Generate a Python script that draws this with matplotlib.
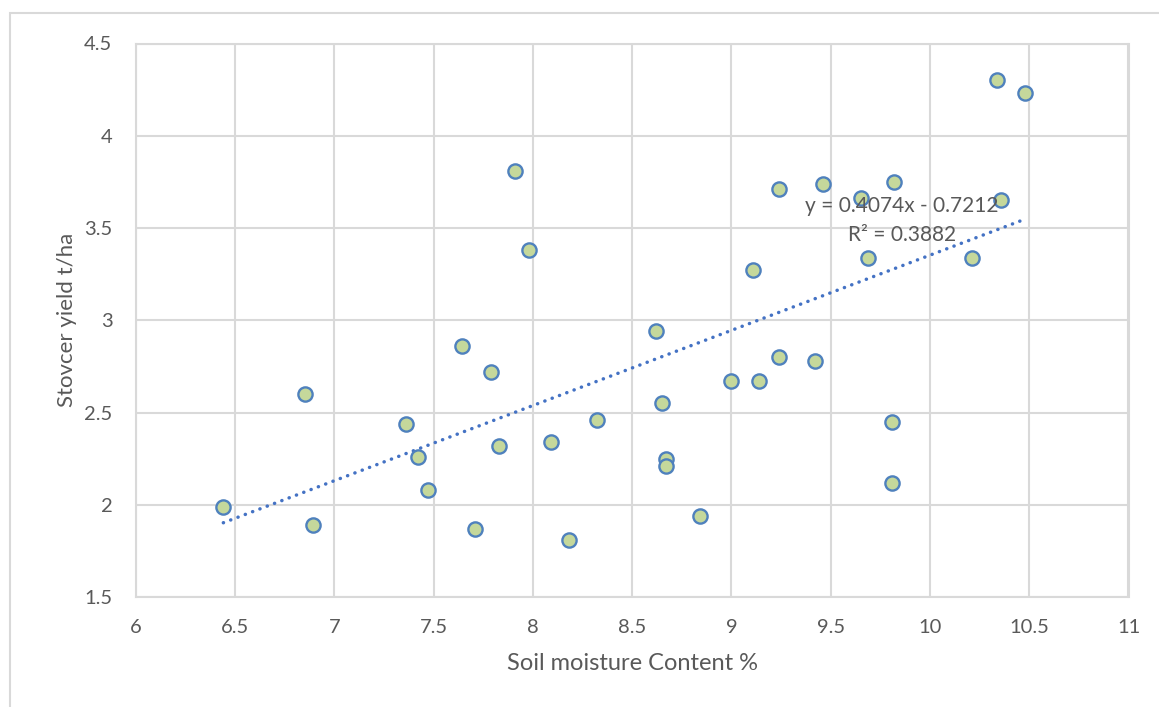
import matplotlib.pyplot as plt
from matplotlib.patches import Rectangle
import numpy as np

# kadar air tanah (%) dan hasil brangkasan (t/ha)
soil_moisture = [6.44, 6.85, 6.89, 7.36, 7.42, 7.47, 7.64, 7.71, 7.79, 7.83,
                 7.91, 7.98, 8.09, 8.18, 8.32, 8.62, 8.65, 8.67, 8.67, 8.84,
                 9.00, 9.11, 9.14, 9.24, 9.24, 9.42, 9.46, 9.65, 9.69, 9.81,
                 9.82, 9.81, 10.21, 10.34, 10.36, 10.48]
stover_yield = [1.99, 2.60, 1.89, 2.44, 2.26, 2.08, 2.86, 1.87, 2.72, 2.32,
                3.81, 3.38, 2.34, 1.81, 2.46, 2.94, 2.55, 2.25, 2.21, 1.94,
                2.67, 3.27, 2.67, 2.80, 3.71, 2.78, 3.74, 3.66, 3.34, 2.45,
                3.75, 2.12, 3.34, 4.30, 3.65, 4.23]

# garis tren linear (dari label Excel)
slope = 0.4074
intercept = -0.7212
r_squared = 0.3882

x_ticks = [6, 6.5, 7, 7.5, 8, 8.5, 9, 9.5, 10, 10.5, 11]
y_ticks = [1.5, 2, 2.5, 3, 3.5, 4, 4.5]

text_col = '#595959'
grid_col = '#d9d9d9'

plt.rcParams['font.family'] = ['Lato', 'DejaVu Sans']

fig = plt.figure(figsize=(11.59, 7.07), dpi=100)
# bingkai area grafik
fig.patches.append(Rectangle((10 / 1159, -0.1), 1.2, 1 - 13 / 707 + 0.1,
                             transform=fig.transFigure, fill=False,
                             edgecolor=grid_col, linewidth=1.5))

ax = fig.add_axes([136 / 1159, 1 - 597 / 707, (1128.5 - 136) / 1159, (597 - 43.5) / 707])

ax.scatter(soil_moisture, stover_yield, s=105, facecolor='#c5d89b',
           edgecolor='#4f81bd', linewidth=1.7, zorder=3)

xs = np.array([min(soil_moisture), max(soil_moisture)])
ax.plot(xs, slope * xs + intercept, color='#4472c4', linewidth=2.5,
        linestyle=(0, (0.05, 2.2)), dash_capstyle='round', zorder=2)

ax.text(9.86, 3.62, f'y = {slope}x - {abs(intercept)}', ha='center', va='center',
        fontsize=15, color=text_col, zorder=4)
ax.text(9.86, 3.46, f'R² = {r_squared}', ha='center', va='center',
        fontsize=15, color=text_col, zorder=4)

ax.set_xlim(6, 11)
ax.set_ylim(1.5, 4.5)
ax.set_xticks(x_ticks)
ax.set_xticklabels([f'{t:g}' for t in x_ticks])
ax.set_yticks(y_ticks)
ax.set_yticklabels([f'{t:g}' for t in y_ticks])
ax.tick_params(length=0, labelsize=14.5, labelcolor=text_col)
ax.tick_params(axis='x', pad=16)
ax.tick_params(axis='y', pad=17)
ax.grid(True, color=grid_col, linewidth=1.5)
ax.set_axisbelow(True)
for sp in ax.spines.values():
    sp.set_color(grid_col)
    sp.set_linewidth(1.5)

ax.set_xlabel('Soil moisture Content %', fontsize=17, color=text_col, labelpad=12)
ax.set_ylabel('Stovcer yield t/ha', fontsize=16, color=text_col, labelpad=5)

fig.savefig('out.png', dpi=100)
